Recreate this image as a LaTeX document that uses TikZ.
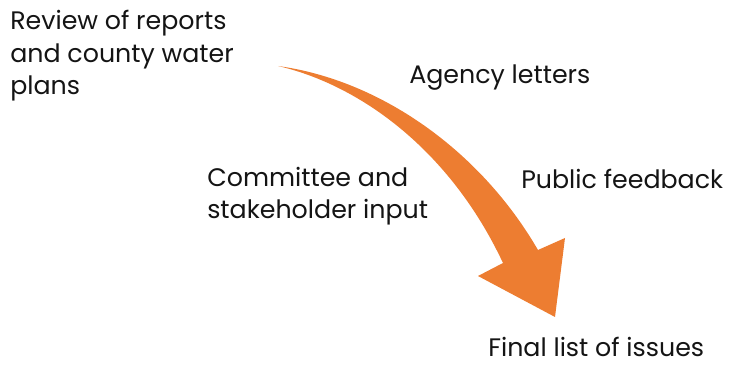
\documentclass[tikz,border=0pt]{standalone}
\usepackage{fontspec}
\setmainfont{Poppins}
\usepackage{tikz}
\usetikzlibrary{positioning}
\definecolor{flowOrange}{RGB}{237,125,49}
\definecolor{labelBlack}{RGB}{20,20,20}
\tikzset{
  step label/.style={
    anchor=base west, inner sep=0pt, align=left, text=labelBlack,
    font=\fontsize{18}{23.3}\selectfont
  },
  flow arrow/.style={fill=flowOrange, draw=none}
}

\begin{document}
\begin{tikzpicture}[x=1cm,y=1cm]
  \useasboundingbox (0,0) rectangle (18.375,9.15);

  % Inputs to the process (base = last line)
  \node[step label] (review) at (0.25,6.775)
    {Review of reports\\and county water\\plans};
  \node[step label] (agency) at (10.225,7.05) {Agency letters};
  \node[step label] (committee) at (5.175,3.675)
    {Committee and\\stakeholder input};
  \node[step label] (public) at (13.025,4.425) {Public feedback};

  % Outcome
  \node[step label] (final) at (12.2,0.225) {Final list of issues};

  % Sweeping arrow from the tail to the head
  \coordinate (tail) at (6.95,7.50);
  \coordinate (outer end) at (13.45,2.9);
  \coordinate (inner end) at (12.575,2.575);
  \coordinate (barb r) at (14.125,3.2);
  \coordinate (barb l) at (11.95,2.25);
  \coordinate (tip) at (13.875,1.225);
  \fill[flow arrow] (tail)
    .. controls (9.5,7.15) and (12.0,5.4) .. (outer end)
    -- (barb r) -- (tip) -- (barb l) -- (inner end)
    .. controls (11.25,5.4) and (9.0,7.025) .. cycle;
\end{tikzpicture}
\end{document}
